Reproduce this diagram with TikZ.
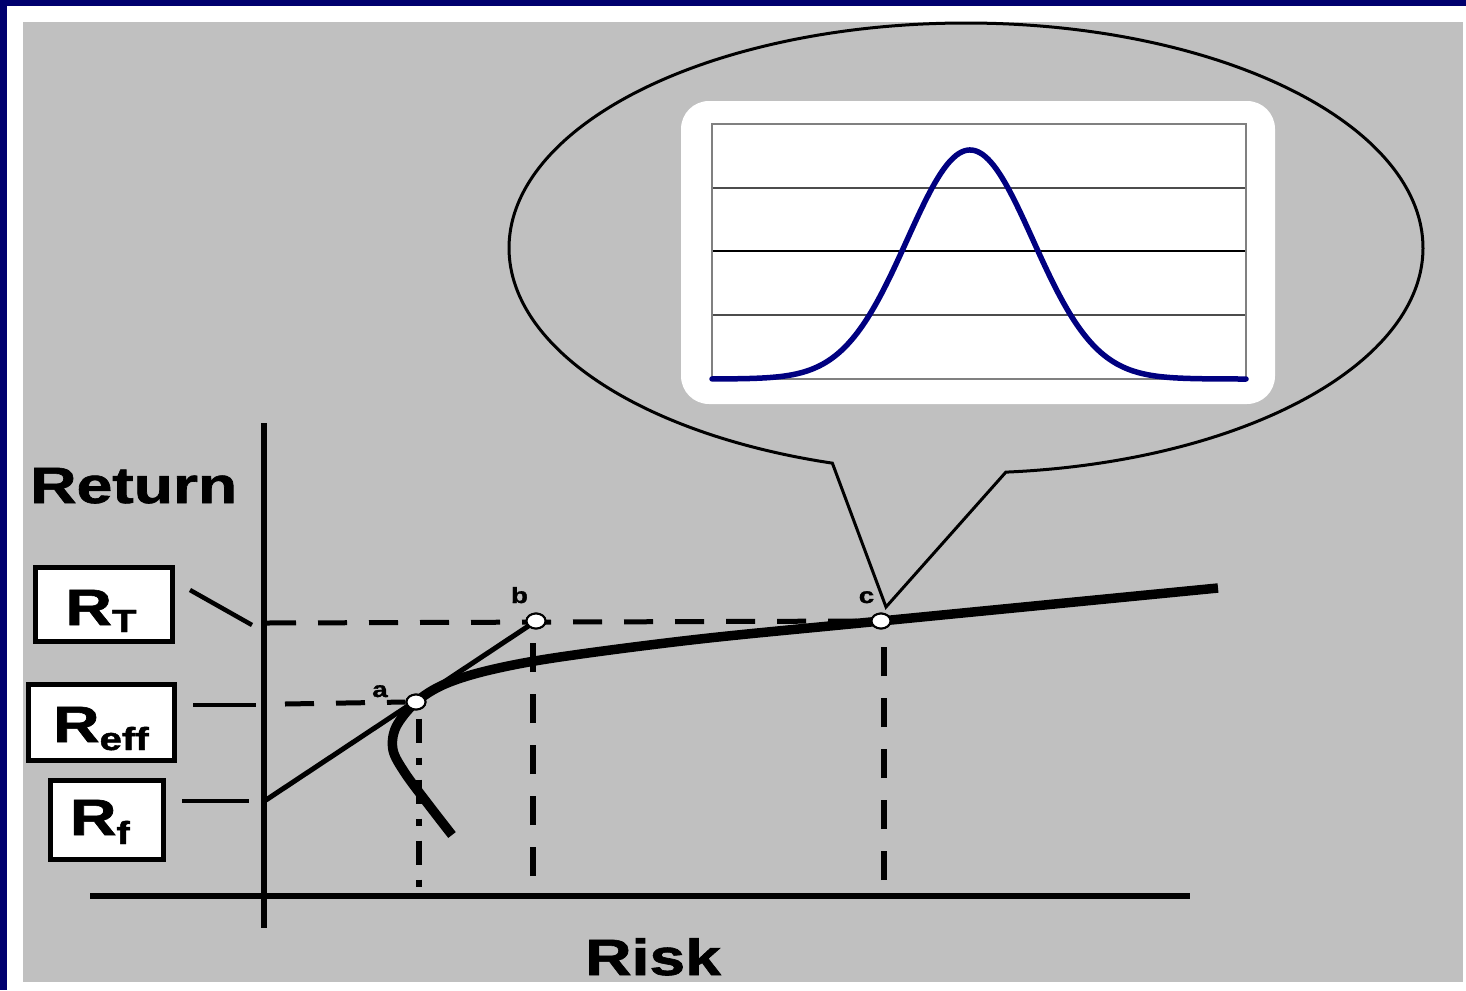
\documentclass[tikz,border=0pt]{standalone}
\usepackage{fontspec}
\setmainfont{Liberation Sans}[BoldFeatures={FakeBold=1.2}]
\usetikzlibrary{shapes.geometric}
\definecolor{framecol}{RGB}{0,0,110}
\definecolor{bgcol}{RGB}{192,192,192}
\definecolor{curvecol}{RGB}{0,0,128}
\newcommand{\widetxt}[1]{\scalebox{1.26}[1]{#1}}
\begin{document}
\begin{tikzpicture}[x=1pt,y=-1pt,
  axisline/.style={line width=5.5},
  tickline/.style={line width=4.5},
  hdash/.style={line width=5,dash pattern=on 29pt off 22pt},
  vdash/.style={line width=6,dash pattern=on 29pt off 22pt},
  ddash/.style={line width=6,dash pattern=on 24pt off 15pt on 7pt off 15pt},
  labbox/.style={draw,line width=5.5,fill=white,inner sep=0pt},
  bigtxt/.style={font=\fontsize{51}{51}\selectfont\bfseries,inner sep=0pt},
  subtxt/.style={font=\fontsize{51}{51}\selectfont\bfseries,inner sep=0pt},
  smalltxt/.style={font=\fontsize{22}{22}\selectfont\bfseries,inner sep=0pt},
  ptnode/.style={ellipse,draw,line width=2,fill=white,minimum width=19pt,minimum height=15pt,inner sep=0pt},
  gridl/.style={line width=1.2,gray!60!black}
]
\useasboundingbox (0,0) rectangle (1466,990);
\fill[white] (0,0) rectangle (1466,990);
\fill[framecol] (0,0) rectangle (1466,6);
\fill[framecol] (0,0) rectangle (7,990);
\fill[bgcol] (23,22) rectangle (1463,982);

% callout balloon
\coordinate (tip) at (886,607);
\draw[line width=3,line join=miter] plot[domain=-85:253,samples=240,smooth] ({966+457*cos(\x)},{248-225*sin(\x)}) -- (tip) -- cycle;

% chart panel
\node[fill=white,rounded corners=28pt,minimum width=594pt,minimum height=303pt,inner sep=0pt] (panel) at (978,252.5) {};
\foreach \yy in {188,315} \draw[gridl] (712,\yy) -- (1246,\yy);
\draw[line width=1.2,black] (712,251) -- (1246,251);
\draw[line width=1.5,gray] (712,124) rectangle (1246,379);
\draw[curvecol,line width=5.5,line join=round,line cap=round] plot[domain=712:1246,samples=200] (\x,{379-229*exp(-((\x-970)/63)*((\x-970)/63)/2)});

% axes
\coordinate (ytop) at (264,423);
\coordinate (ybot) at (264,928);
\coordinate (xl) at (90,896);
\coordinate (xr) at (1190,896);
\draw[axisline] (ytop) -- (ybot);
\draw[line width=6] (xl) -- (xr);

% axis titles
\node[bigtxt,anchor=base west] (rettxt) at (30,503) {\widetxt{Return}};
\node[bigtxt,anchor=base west] (risktxt) at (585,975) {\widetxt{Risk}};

% points
\node[ptnode] (a) at (416,702) {};
\node[ptnode] (b) at (536,621) {};
\node[ptnode] (c) at (881,621) {};
\coordinate (rf) at (266,800);
\coordinate (rtstart) at (267,623);
\coordinate (reffstart) at (285,704);
\coordinate (bfoot) at (533,876);
\coordinate (cfoot) at (884,880);
\coordinate (afoot) at (419,893);

% efficient frontier
\draw[line width=9.5] plot[smooth,tension=0.55] coordinates {(452,835) (428,804) (405,773) (393,750) (396,727) (416,702) (445,684) (490,670) (560,657) (700,639) (881,621) (1218,588)};

% capital market line
\draw[line width=5] (rf) -- (b.center);

% dashed guides
\draw[hdash] (rtstart) -- (c.west);
\draw[hdash] (reffstart) -- (a.west);
\draw[vdash] (bfoot) -- (b.south -| bfoot);
\draw[vdash] (cfoot) -- (c.south -| cfoot);
\draw[ddash,dash phase=-8pt] (a.south -| afoot) -- (afoot);

% redraw points on top
\node[ptnode] at (a) {};
\node[ptnode] at (b) {};
\node[ptnode] at (c) {};

% point labels
\node[smalltxt,anchor=base] (alab) at (380,697) {\widetxt{a}};
\node[smalltxt,anchor=base] (blab) at (519.5,603) {\widetxt{b}};
\node[smalltxt,anchor=base] (clab) at (866.5,603) {\widetxt{c}};

% label boxes
\node[labbox,minimum width=137pt,minimum height=74pt] (rtbox) at (104,604.5) {};
\node[labbox,minimum width=146pt,minimum height=76pt] (reffbox) at (101.5,722.5) {};
\node[labbox,minimum width=113pt,minimum height=79pt] (rfbox) at (107,820) {};
\node[subtxt,anchor=base] (rttxt) at (101,625) {\widetxt{R\raisebox{-7pt}{\fontsize{32}{32}\selectfont T}}};
\node[subtxt,anchor=base] (refftxt) at (101,742) {\widetxt{R\raisebox{-8pt}{\fontsize{32}{32}\selectfont eff}}};
\node[subtxt,anchor=base] (rftxt) at (100,835) {\widetxt{R\raisebox{-9pt}{\fontsize{32}{32}\selectfont f}}};

% tick lines from labels to the axis
\coordinate (t1a) at (190,590); \coordinate (t1b) at (252,625);
\coordinate (t2a) at (193,705); \coordinate (t2b) at (256,705);
\coordinate (t3a) at (182,801); \coordinate (t3b) at (249,801);
\draw[tickline] (t1a) -- (t1b);
\draw[tickline] (t2a) -- (t2b);
\draw[tickline] (t3a) -- (t3b);
\end{tikzpicture}
\end{document}
